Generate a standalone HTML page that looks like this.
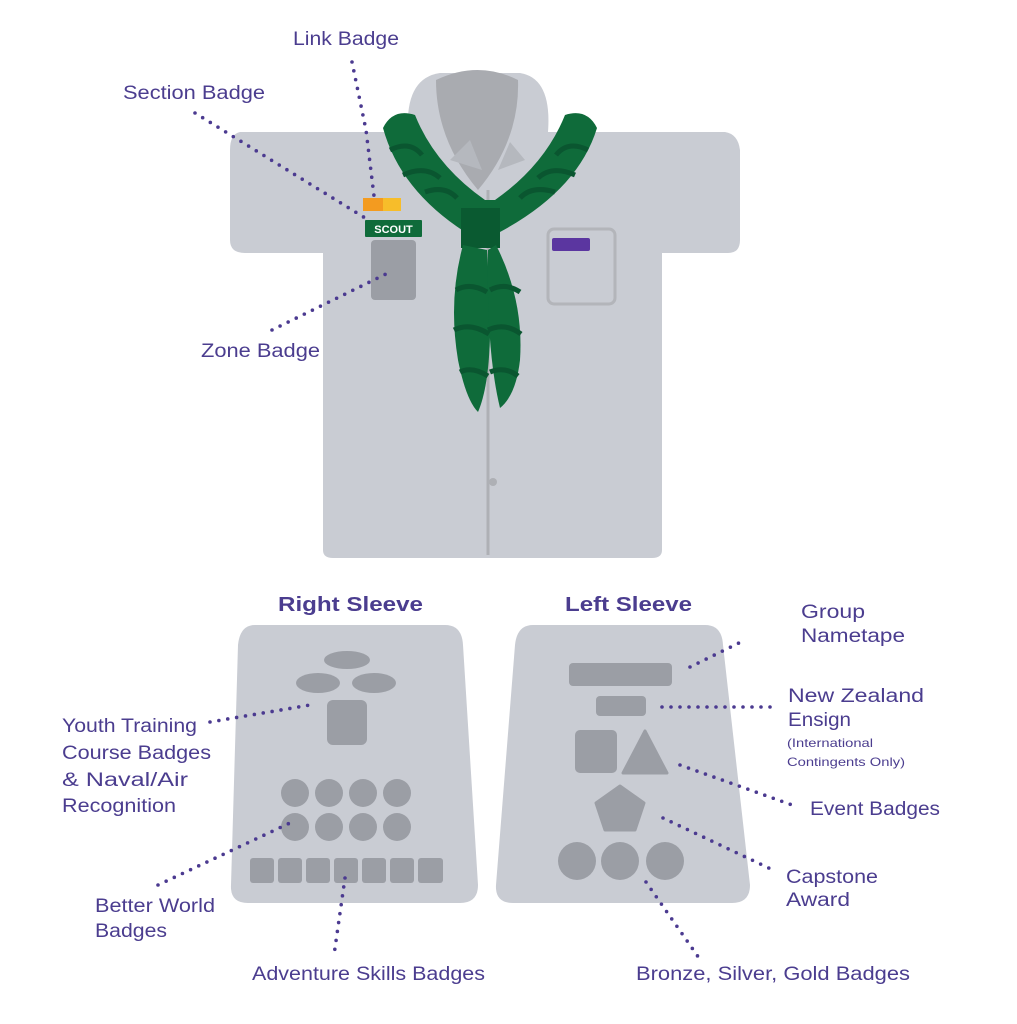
<!DOCTYPE html>
<html><head><meta charset="utf-8"><style>
html,body{margin:0;padding:0;background:#fff;}
svg{display:block;}
text{font-family:"Liberation Sans",sans-serif;fill:#4b3d8f;font-size:19px;}
.d{stroke:#4b3a90;stroke-width:3.6;stroke-linecap:round;stroke-dasharray:0 9;fill:none;}
</style></head><body>
<svg width="1017" height="1024" viewBox="0 0 1017 1024" xmlns="http://www.w3.org/2000/svg">
<rect width="1017" height="1024" fill="#fff"/>
<!-- shirt -->
<path d="M408,132 L240,132 Q230,134 230,150 L230,240 Q230,253 245,253 L323,253 L323,550 Q323,558 333,558 L652,558 Q662,558 662,550 L662,253 L728,253 Q740,253 740,240 L740,150 Q738,134 725,132 L560,132 Z" fill="#c9ccd3"/>
<path d="M408,132 Q405,78 440,73 L520,73 Q552,78 548,132 L530,175 L440,175 Z" fill="#c9ccd3"/>
<path d="M436,80 Q478,60 518,80 Q520,140 478,190 Q436,140 436,80 Z" fill="#a9abb0"/>
<path d="M450,160 L470,140 L482,170 Z" fill="#b5b8be"/>
<path d="M498,170 L510,142 L525,160 Z" fill="#b5b8be"/>
<line x1="488" y1="190" x2="488" y2="555" stroke="#aeb0b5" stroke-width="3"/>
<circle cx="493" cy="482" r="4" fill="#aeb0b5"/>
<!-- pocket -->
<rect x="548" y="229" width="67" height="75" rx="6" fill="none" stroke="#b3b5ba" stroke-width="3"/>
<rect x="552" y="238" width="38" height="13" rx="2" fill="#5b36a0"/>
<!-- scarf -->
<path d="M383,128 Q393,108 415,115 Q435,165 485,200 L495,200 Q545,165 565,115 Q587,108 597,128 Q578,190 500,232 L465,232 Q400,190 383,128 Z" fill="#0f6b3a"/>
<path d="M390,150 Q410,140 422,155 M403,175 Q425,165 440,178 M425,192 Q445,185 457,198 M588,150 Q568,140 556,155 M575,175 Q552,165 538,178 M555,192 Q532,185 520,198" stroke="#0a5630" stroke-width="5" fill="none"/>
<rect x="461" y="208" width="39" height="40" fill="#0a5a31"/>
<path d="M463,245 Q448,300 458,360 Q466,400 478,412 Q492,380 490,300 L487,250 Z" fill="#0f6b3a"/>
<path d="M496,245 Q524,300 520,360 Q516,395 500,408 Q486,350 488,250 Z" fill="#0f6b3a"/>
<path d="M456,290 Q470,282 487,292 M454,330 Q470,322 489,334 M460,372 Q472,366 488,376 M490,290 Q505,282 520,292 M488,330 Q505,322 521,334 M490,372 Q505,366 518,376" stroke="#0a5630" stroke-width="5" fill="none"/>
<!-- left chest badges -->
<rect x="363" y="198" width="20" height="13" fill="#f39b20"/>
<rect x="383" y="198" width="18" height="13" fill="#f7bd2a"/>
<rect x="365" y="220" width="57" height="17" rx="1" fill="#0f6b3a"/>
<text x="393.5" y="233" text-anchor="middle" style="font-size:11px;font-weight:bold;fill:#fff">SCOUT</text>
<rect x="371" y="240" width="45" height="60" rx="4" fill="#9b9ea5"/>
<!-- sleeve panels -->
<path d="M255,625 L445,625 Q462,625 463,645 L478,885 Q478,903 460,903 L248,903 Q230,903 231,885 L238,645 Q240,625 255,625 Z" fill="#c9ccd3"/>
<path d="M533,625 L705,625 Q722,625 723,645 L750,885 Q750,903 732,903 L513,903 Q495,903 496,885 L515,645 Q517,625 533,625 Z" fill="#c9ccd3"/>
<g fill="#9b9ea5">
<ellipse cx="347" cy="660" rx="23" ry="9"/>
<ellipse cx="318" cy="683" rx="22" ry="10"/>
<ellipse cx="374" cy="683" rx="22" ry="10"/>
<rect x="327" y="700" width="40" height="45" rx="6"/>
<circle cx="295" cy="793" r="14"/><circle cx="329" cy="793" r="14"/><circle cx="363" cy="793" r="14"/><circle cx="397" cy="793" r="14"/>
<circle cx="295" cy="827" r="14"/><circle cx="329" cy="827" r="14"/><circle cx="363" cy="827" r="14"/><circle cx="397" cy="827" r="14"/>
<rect x="250" y="858" width="24" height="25" rx="3"/><rect x="278" y="858" width="24" height="25" rx="3"/><rect x="306" y="858" width="24" height="25" rx="3"/><rect x="334" y="858" width="24" height="25" rx="3"/><rect x="362" y="858" width="24" height="25" rx="3"/><rect x="390" y="858" width="24" height="25" rx="3"/><rect x="418" y="858" width="25" height="25" rx="3"/>
<rect x="569" y="663" width="103" height="23" rx="4"/>
<rect x="596" y="696" width="50" height="20" rx="4"/>
<rect x="575" y="730" width="42" height="43" rx="5"/>
<path d="M645,731 L667,773 L623,773 Z" stroke="#9b9ea5" stroke-width="3" stroke-linejoin="round"/>
<path d="M620,786 L644,803 L635,830 L605,830 L596,803 Z" stroke="#9b9ea5" stroke-width="3" stroke-linejoin="round"/>
<circle cx="577" cy="861" r="19"/><circle cx="620" cy="861" r="19"/><circle cx="665" cy="861" r="19"/>
</g>
<!-- dotted connectors -->
<path class="d" d="M352,62 L366,130 L374,196"/>
<path class="d" d="M195,113 L370,221"/>
<path class="d" d="M272,330 L390,272"/>
<path class="d" d="M210,722 L316,704"/>
<path class="d" d="M158,885 L292,822"/>
<path class="d" d="M345,878 L334,955"/>
<path class="d" d="M690,667 L743,641"/>
<path class="d" d="M662,707 L775,707"/>
<path class="d" d="M680,765 L795,806"/>
<path class="d" d="M663,818 L773,870"/>
<path class="d" d="M646,882 L699,958"/>
<!-- labels -->
<text x="293" y="45" textLength="106" lengthAdjust="spacingAndGlyphs">Link Badge</text>
<text x="123" y="99" textLength="142" lengthAdjust="spacingAndGlyphs">Section Badge</text>
<text x="201" y="357" textLength="119" lengthAdjust="spacingAndGlyphs">Zone Badge</text>
<text x="278" y="611" textLength="145" lengthAdjust="spacingAndGlyphs" style="font-weight:bold;font-size:20px">Right Sleeve</text>
<text x="565" y="611" textLength="127" lengthAdjust="spacingAndGlyphs" style="font-weight:bold;font-size:20px">Left Sleeve</text>
<text x="62" y="732" textLength="135" lengthAdjust="spacingAndGlyphs">Youth Training</text>
<text x="62" y="759" textLength="149" lengthAdjust="spacingAndGlyphs">Course Badges</text>
<text x="62" y="786" textLength="126" lengthAdjust="spacingAndGlyphs">&amp; Naval/Air</text>
<text x="62" y="812" textLength="114" lengthAdjust="spacingAndGlyphs">Recognition</text>
<text x="95" y="912" textLength="120" lengthAdjust="spacingAndGlyphs">Better World</text>
<text x="95" y="937" textLength="72" lengthAdjust="spacingAndGlyphs">Badges</text>
<text x="252" y="980" textLength="233" lengthAdjust="spacingAndGlyphs">Adventure Skills Badges</text>
<text x="801" y="618" textLength="64" lengthAdjust="spacingAndGlyphs">Group</text>
<text x="801" y="642" textLength="104" lengthAdjust="spacingAndGlyphs">Nametape</text>
<text x="788" y="702" textLength="136" lengthAdjust="spacingAndGlyphs">New Zealand</text>
<text x="788" y="726" textLength="63" lengthAdjust="spacingAndGlyphs">Ensign</text>
<text x="787" y="747" textLength="86" lengthAdjust="spacingAndGlyphs" style="font-size:12px">(International</text>
<text x="787" y="766" textLength="118" lengthAdjust="spacingAndGlyphs" style="font-size:12px">Contingents Only)</text>
<text x="810" y="815" textLength="130" lengthAdjust="spacingAndGlyphs">Event Badges</text>
<text x="786" y="883" textLength="92" lengthAdjust="spacingAndGlyphs">Capstone</text>
<text x="786" y="906" textLength="64" lengthAdjust="spacingAndGlyphs">Award</text>
<text x="636" y="980" textLength="274" lengthAdjust="spacingAndGlyphs">Bronze, Silver, Gold Badges</text>
</svg>
</body></html>
